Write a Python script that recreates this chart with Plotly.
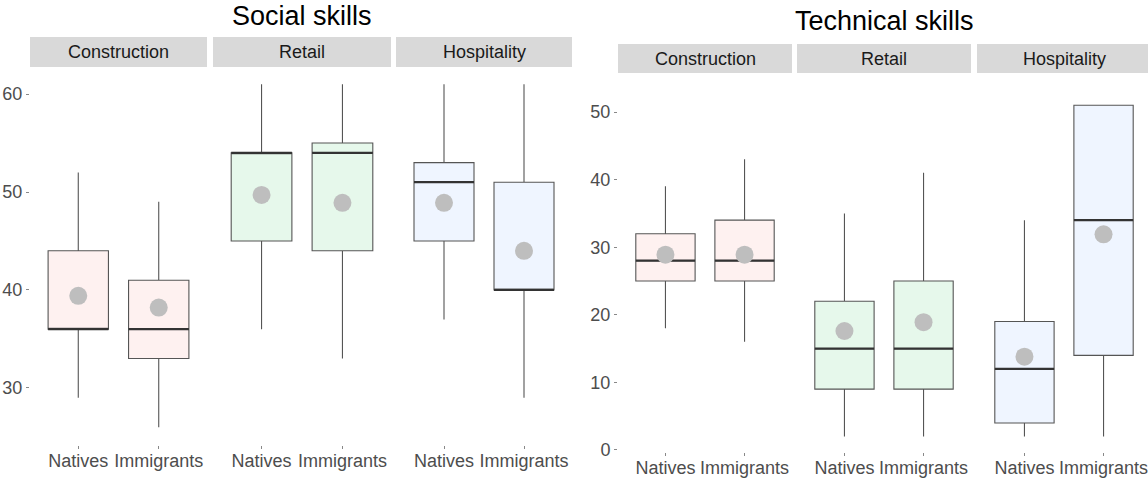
import plotly.graph_objects as go

W, H = 1148, 479

industries = ["Construction", "Retail", "Hospitality"]
groups = ["Natives", "Immigrants"]
fills = ["#FEF1F0", "#E6F8EB", "#EFF5FF"]

# Social skills: per industry, [Natives, Immigrants]
social_low = [[29, 26], [36, 33], [37, 29]]
social_q1 = [[36, 33], [45, 44], [45, 40]]
social_med = [[36, 36], [54, 54], [51, 40]]
social_q3 = [[44, 41], [54, 55], [53, 51]]
social_high = [[52, 49], [61, 61], [61, 61]]
social_mean = [[39.4, 38.2], [49.7, 48.9], [48.9, 44.0]]

# Technical skills
tech_low = [[18, 16], [2, 2], [2, 2]]
tech_q1 = [[25, 25], [9, 9], [4, 14]]
tech_med = [[28, 28], [15, 15], [12, 34]]
tech_q3 = [[32, 34], [22, 25], [19, 51]]
tech_high = [[39, 43], [35, 41], [34, 51]]
tech_mean = [[28.9, 28.9], [17.6, 18.9], [13.8, 31.9]]

social_ticks = [30, 40, 50, 60]
tech_ticks = [0, 10, 20, 30, 40, 50]

BOX_W = 0.75
FONT = "Liberation Sans, Arial, sans-serif"

def px(p):
    return p / W

def py(p):
    return 1 - p / H

fig = go.Figure()

panels = [
    dict(low=social_low, q1=social_q1, med=social_med, q3=social_q3, high=social_high,
         mean=social_mean, yname="y", xnames=["x", "x2", "x3"],
         strips=[(30, 207), (213, 391), (396, 572)], strip_y=(37, 67),
         title="Social skills", title_x=302, title_y=16),
    dict(low=tech_low, q1=tech_q1, med=tech_med, q3=tech_q3, high=tech_high,
         mean=tech_mean, yname="y2", xnames=["x4", "x5", "x6"],
         strips=[(618, 792), (797, 971), (977, 1151)], strip_y=(44, 73),
         title="Technical skills", title_x=884, title_y=21),
]

shapes = []
annotations = []
cats = list(range(len(groups)))

for p in panels:
    for k, ind in enumerate(industries):
        xn = p["xnames"][k]
        fig.add_trace(go.Box(
            x=cats, q1=p["q1"][k], median=p["med"][k], q3=p["q3"][k],
            lowerfence=p["low"][k], upperfence=p["high"][k],
            width=BOX_W, whiskerwidth=0, fillcolor=fills[k],
            line=dict(color="#555555", width=1.1),
            boxpoints=False, xaxis=xn, yaxis=p["yname"], showlegend=False,
            hoverinfo="skip"))
        mx, my = [], []
        for i in cats:
            mx += [i - BOX_W / 2, i + BOX_W / 2, None]
            my += [p["med"][k][i], p["med"][k][i], None]
        fig.add_trace(go.Scatter(x=mx, y=my, mode="lines",
                                 line=dict(color="#333333", width=2.2),
                                 xaxis=xn, yaxis=p["yname"], showlegend=False,
                                 hoverinfo="skip"))
        fig.add_trace(go.Scatter(x=cats, y=p["mean"][k], mode="markers",
                                 marker=dict(color="#BEBEBE", size=18),
                                 xaxis=xn, yaxis=p["yname"], showlegend=False,
                                 hoverinfo="skip"))
        x0, x1 = p["strips"][k]
        y0, y1 = p["strip_y"]
        shapes.append(dict(type="rect", xref="paper", yref="paper",
                           x0=px(x0), x1=px(x1), y0=py(y1), y1=py(y0),
                           fillcolor="#D9D9D9", line=dict(width=0), layer="below"))
        annotations.append(dict(text=ind, xref="paper", yref="paper",
                                x=px((x0 + x1) / 2), y=py((y0 + y1) / 2),
                                xanchor="center", yanchor="middle", showarrow=False,
                                font=dict(family=FONT, size=18, color="#1A1A1A")))
    annotations.append(dict(text=p["title"], xref="paper", yref="paper",
                            x=px(p["title_x"]), y=py(p["title_y"]),
                            xanchor="center", yanchor="middle", showarrow=False,
                            font=dict(family=FONT, size=27, color="#000000")))

layout = dict(width=W, height=H, margin=dict(l=0, r=0, t=0, b=0, pad=0),
              autosize=False, paper_bgcolor="white", plot_bgcolor="white",
              shapes=shapes, annotations=annotations, showlegend=False,
              font=dict(family=FONT))

xaxis_common = dict(tickmode="array", tickvals=cats, ticktext=groups,
                    showgrid=False, zeroline=False, showline=False,
                    ticks="outside", ticklen=3, tickcolor="#888888",
                    tickfont=dict(family=FONT, size=18, color="#4D4D4D"),
                    ticklabelstandoff=-4, ticklabeloverflow="allow",
                    fixedrange=True, automargin=False)

for k, (x0, x1) in enumerate(panels[0]["strips"]):
    name = "xaxis" if k == 0 else f"xaxis{k + 1}"
    layout[name] = dict(xaxis_common, domain=[px(x0), px(x1)], range=[-0.6, 1.6], anchor="y")
for k, (x0, x1) in enumerate(panels[1]["strips"]):
    name = f"xaxis{k + 4}"
    layout[name] = dict(xaxis_common, domain=[px(x0), min(1.0, px(x1))],
                        range=[-0.6, 1.6 - (max(0, x1 - W) / ((x1 - x0) / 2.2))], anchor="y2")

yaxis_common = dict(showgrid=False, zeroline=False, showline=False,
                    ticks="outside", ticklen=3, tickcolor="#888888",
                    tickfont=dict(family=FONT, size=18, color="#4D4D4D"),
                    fixedrange=True, automargin=False)
layout["yaxis"] = dict(yaxis_common, domain=[py(445), py(70)], range=[24.18, 62.45],
                       tickvals=social_ticks, anchor="x")
layout["yaxis2"] = dict(yaxis_common, domain=[py(452), py(76)], range=[-0.3, 55.33],
                        tickvals=tech_ticks, anchor="x4")

fig.update_layout(**layout)
fig.write_html("out.html")
